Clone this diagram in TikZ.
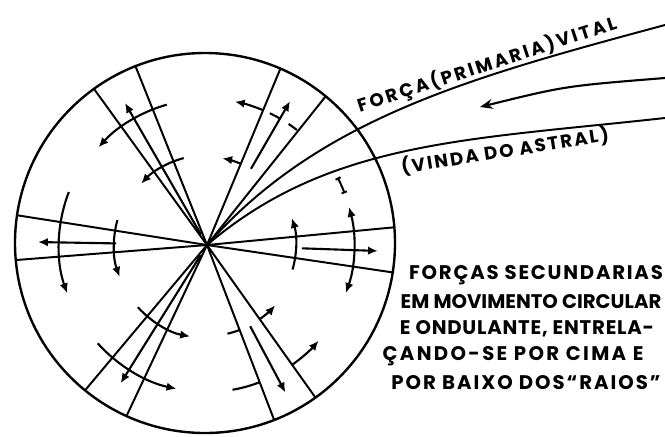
\documentclass[tikz,border=0pt]{standalone}
\usepackage{fontspec}
\setmainfont{Poppins}
\usepackage{tikz}
\usetikzlibrary{arrows.meta,calc}

\begin{document}
\begin{tikzpicture}[x=0.025cm, y=-0.025cm,
    rim/.style={line width=1.7pt},
    ray/.style={line width=1.4pt},
    seg/.style={line width=1.5pt},
    arr/.style={line width=1.5pt, -{Latex[length=7pt,width=6pt]}},
    barr/.style={line width=1.5pt, {Latex[length=7pt,width=6pt]}-{Latex[length=7pt,width=6pt]}},
    tick/.style={line width=1.4pt, {Bar[width=4pt]}-{Bar[width=4pt]}},
    lbl/.style={font=\bfseries\fontsize{13}{15}\selectfont\addfontfeature{LetterSpace=#1}, inner sep=0pt},
    note/.style={font=\bfseries\fontsize{14}{16}\selectfont\addfontfeature{LetterSpace=#1}, inner sep=0pt}
]
\useasboundingbox (0,0) rectangle (665,436);
\coordinate (O) at (205,243);
\coordinate (C) at (207,245);
\coordinate (F1) at (665,25);
\coordinate (F2) at (665,118);
\coordinate (F3) at (665,78);
\coordinate (F4) at (480,107);

\draw[rim] (O) circle[radius=190];
\begin{scope}
  \clip (O) circle[radius=190];
  \foreach \a in {-125.9,-111.8,-67.4,-51.4,-5.4,8.4,54.6,69,115.2,130,175.5,188.9}
    \draw[ray] (C) -- ++(\a:220);
\end{scope}

\draw[ray] (C) .. controls (319,118) and (472,77) .. (F1);
\draw[ray] (C) .. controls (329,141) and (466,140) .. (F2);
\draw[arr, -{Stealth[length=9pt,width=7pt]}] (F3) .. controls (565,86) .. (F4);

\foreach \a/\r/\s in {-120/12/164, -60/88/166, 2/95/171, 62/92/167, 122/12/163, 181/91/169}
  \draw[arr] ($(C)+(\a:\r)$) -- ($(C)+(\a:\s)$);

\foreach \r/\a/\b in {146/-106/-138, 90/-105/-137, 148/201/161, 93/195.5/160, 93/138/100.5, 147/138/102, 89/16/-17.6, 146/-67.4/-79, 88/-67.4/-80, 91/54.6/41.5, 147/54.6/40.6}
  \draw[arr] ($(C)+(\a:\r)$) arc[start angle=\a, end angle=\b, radius=\r];

\foreach \r/\a/\b in {146/-52/-56, 146/-60/-64.5, 91/77/69, 147/80/69}
  \draw[seg] ($(C)+(\a:\r)$) arc[start angle=\a, end angle=\b, radius=\r];

\draw[barr] ($(C)+(-15:147)$) arc[start angle=-15, end angle=19, radius=147];
\draw[tick] ($(C)+(-27.3:147)$) arc[start angle=-27.3, end angle=-20.6, radius=147];

\node[lbl=14, rotate=18] (P) at (487,65) {FORÇA(PRIMARIA)VITAL};
\node[lbl=11, rotate=9] (V) at (505,151) {(VINDA DO ASTRAL)};

\node[note=9] (L1) at (536,275) {FORÇAS SECUNDARIAS};
\node[note=0] (L2) at (531,302) {EM MOVIMENTO CIRCULAR};
\node[note=4] (L3) at (527,329) {E ONDULANTE, ENTRELA-};
\node[note=12] (L4) at (513,356) {ÇANDO-SE POR CIMA E};
\node[note=10] (L5) at (526,383) {POR BAIXO DOS“RAIOS”};
\end{tikzpicture}
\end{document}
